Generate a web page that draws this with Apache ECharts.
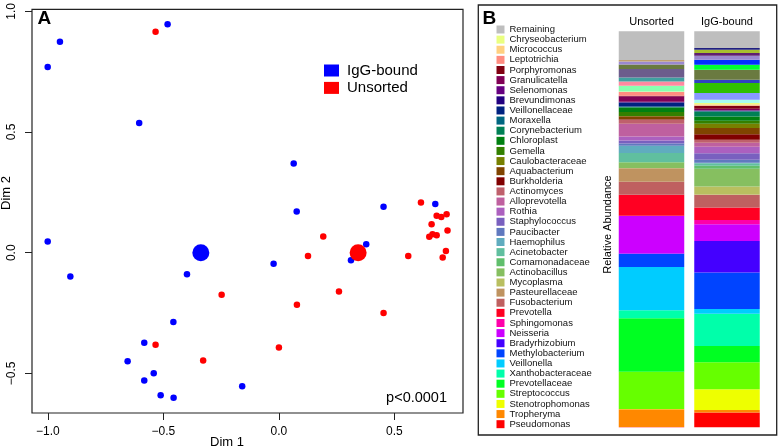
<!DOCTYPE html>
<html><head><meta charset="utf-8">
<script src="https://cdn.jsdelivr.net/npm/echarts@6/dist/echarts.min.js"></script>
<style>html,body{margin:0;padding:0;background:#fff}#c{width:778px;height:446px}</style>
</head><body><div id="c"></div>
<script>
// ---------- Panel A data (MDS coordinates) ----------
const iggBoundPoints = [
  [-0.482,0.947],[-0.948,0.874],[-1.001,0.769],[-0.605,0.537],[0.064,0.370],[0.077,0.171],
  [0.453,0.190],[-1.001,0.046],[0.378,0.035],[0.312,-0.031],[-0.023,-0.046],[-0.903,-0.098],
  [-0.398,-0.089],[-0.457,-0.287],[-0.583,-0.373],[-0.655,-0.450],[-0.542,-0.499],[-0.583,-0.529],
  [-0.159,-0.553],[-0.512,-0.590],[-0.456,-0.601],[0.677,0.202]
];
const unsortedPoints = [
  [-0.534,0.915],[0.192,0.067],[0.126,-0.014],[-0.248,-0.174],[0.260,-0.161],[0.078,-0.216],
  [0.453,-0.250],[-0.534,-0.381],[0.000,-0.393],[-0.328,-0.447],[0.615,0.208],[0.683,0.153],
  [0.703,0.148],[0.726,0.159],[0.661,0.118],[0.730,0.092],[0.665,0.077],[0.683,0.072],
  [0.651,0.066],[0.723,0.007],[0.560,-0.014],[0.709,-0.020]
];
const centroidIgG = [[-0.338,0.0]];
const centroidUnsorted = [[0.343,0.0]];
const xTicks = [-1.0,-0.5,0.0,0.5];
const yTicks = [-0.5,0.0,0.5,1.0];

// ---------- Panel B data (relative abundance, %) ----------
const sampleGroups = ['Unsorted','IgG-bound'];
// listed bottom -> top
const taxa = ['Pseudomonas','Tropheryma','Stenotrophomonas','Streptococcus','Prevotellaceae',
  'Xanthobacteraceae','Veillonella','Methylobacterium','Bradyrhizobium','Neisseria','Sphingomonas',
  'Prevotella','Fusobacterium','Pasteurellaceae','Mycoplasma','Actinobacillus','Comamonadaceae',
  'Acinetobacter','Haemophilus','Paucibacter','Staphylococcus','Rothia','Alloprevotella','Actinomyces',
  'Burkholderia','Aquabacterium','Caulobacteraceae','Gemella','Chloroplast','Corynebacterium',
  'Moraxella','Veillonellaceae','Brevundimonas','Selenomonas','Granulicatella','Porphyromonas',
  'Leptotrichia','Micrococcus','Chryseobacterium'];
const unsortedAbundance = [0.08,4.47,0.08,9.42,13.48,2.02,10.93,3.28,0.13,9.47,0.08,5.30,3.28,3.38,
  0.08,1.39,0.13,2.27,1.84,0.58,0.76,1.01,3.21,1.01,0.08,0.76,0.08,1.01,1.14,0.13,0.13,1.01,0.08,
  0.10,1.39,0.13,0.93,0.08,0.08];
const iggAbundance = [3.74,0.63,5.23,6.82,4.12,8.16,1.19,9.22,7.95,4.22,1.09,3.11,3.21,0.08,2.02,
  4.47,0.76,0.68,0.13,0.76,1.64,1.59,1.01,0.76,1.44,1.52,1.09,0.76,1.09,1.26,0.08,0.08,0.08,0.08,
  0.38,0.76,0.08,0.30,0.30];
// thin strips of taxa not named in the legend (bottom -> top)
const unlistedUnsorted = [0,1.44,0,1.09,0,1.01,0,2.10,1.14,0,0,0.76,0,0,0.38,0];
const unlistedIgG = [0.83,0,1.69,0,2.53,0,0.83,0,2.53,1.26,1.26,1.01,0.68,0.83,0,0.43];
const remainingName = 'Remaining';
const remainingUnsorted = 7.27;
const remainingIgG = 4.23;

// ---------- styles ----------
function hsv(h,s,v){
  const f=n=>{const k=(n+h/60)%6;return v-v*s*Math.max(0,Math.min(k,4-k,1));};
  const t=x=>Math.round(x*255).toString(16).padStart(2,'0');
  return '#'+t(f(5))+t(f(3))+t(f(1));
}
const taxaColors = taxa.map((n,i)=>{
  const g=Math.floor(i/12), h=(i%12)*32;
  if(g===0) return hsv(h,1,1);
  if(g===1) return hsv(h,0.5,0.75);
  if(g===2) return hsv(h,1,0.5);
  return hsv(h+6,0.5,1);
});
const unlistedColors = ['#a8fff0','#88ffb0','#8898ff','#ff88a0','#30c000','#40a0a0','#3040c0',
  '#6c5c8c','#6a7a40','#00ff30','#0030ff','#9a88d0','#602070','#a8c030','#c0a070','#202080'];
const FONT = '"Liberation Sans", Arial, Helvetica, sans-serif';

const fmt = v => (v<0?'\u2212':'')+Math.abs(v).toFixed(1);

const barSeries = [];
taxa.forEach((n,i)=>barSeries.push({
  name:n,type:'bar',stack:'b',xAxisIndex:1,yAxisIndex:1,barWidth:65.5,
  itemStyle:{color:taxaColors[i]},data:[unsortedAbundance[i],iggAbundance[i]]
}));
unlistedUnsorted.forEach((v,i)=>barSeries.push({
  name:'Unlisted taxon '+(i+1),type:'bar',stack:'b',xAxisIndex:1,yAxisIndex:1,barWidth:65.5,
  itemStyle:{color:unlistedColors[i]},data:[v,unlistedIgG[i]]
}));
barSeries.push({name:remainingName,type:'bar',stack:'b',xAxisIndex:1,yAxisIndex:1,barWidth:65.5,
  itemStyle:{color:'#bebebe'},data:[remainingUnsorted,remainingIgG]});

const chart = echarts.init(document.getElementById('c'));
chart.setOption({
  animation:false,
  textStyle:{fontFamily:FONT,color:'#000'},
  grid:[
    {left:32,top:5,width:431,height:408,show:true,borderColor:'#222',borderWidth:1.2,backgroundColor:'transparent'},
    {left:613.75,top:31.3,width:151,height:396}
  ],
  xAxis:[
    {type:'value',gridIndex:0,min:-1.069,max:0.797,splitLine:{show:false},axisLine:{show:false,onZero:false},
     axisTick:{show:true,length:7,customValues:xTicks,lineStyle:{color:'#222'}},
     axisLabel:{customValues:xTicks,formatter:fmt,fontSize:12,color:'#000',margin:13,fontFamily:FONT}},
    {type:'category',gridIndex:1,data:sampleGroups,position:'top',axisLine:{show:false},axisTick:{show:false},
     axisLabel:{fontSize:11,color:'#000',margin:4,fontFamily:FONT}}
  ],
  yAxis:[
    {type:'value',gridIndex:0,min:-0.664,max:1.008,splitLine:{show:false},axisLine:{show:false,onZero:false},
     axisTick:{show:true,length:7,customValues:yTicks,lineStyle:{color:'#222'}},
     axisLabel:{customValues:yTicks,formatter:fmt,fontSize:12,color:'#000',margin:14,rotate:90,fontFamily:FONT}},
    {type:'value',gridIndex:1,min:0,max:100,show:false}
  ],
  legend:[
    {data:['IgG-bound','Unsorted'],left:324,top:63,padding:0,orient:'vertical',icon:'rect',itemWidth:15,itemHeight:12,
     itemGap:2.4,selectedMode:false,textStyle:{fontSize:15,lineHeight:12,color:'#000',fontFamily:FONT,padding:[0,0,0,3]}},
    {data:[remainingName].concat(taxa.slice().reverse()),left:496.5,top:24.5,padding:0,orient:'vertical',icon:'rect',
     itemWidth:8,itemHeight:8,itemGap:0.12,selectedMode:false,
     textStyle:{fontSize:9.5,lineHeight:10,color:'#111',fontFamily:FONT}}
  ],
  series:[
    {name:'IgG-bound',type:'scatter',xAxisIndex:0,yAxisIndex:0,symbolSize:6.5,itemStyle:{color:'#0000ff',opacity:1},data:iggBoundPoints,z:2},
    {name:'Unsorted',type:'scatter',xAxisIndex:0,yAxisIndex:0,symbolSize:6.5,itemStyle:{color:'#ff0000',opacity:1},data:unsortedPoints,z:3},
    {name:'IgG-bound centroid',type:'scatter',xAxisIndex:0,yAxisIndex:0,symbolSize:17,itemStyle:{color:'#0000ff',opacity:1},data:centroidIgG,z:4},
    {name:'Unsorted centroid',type:'scatter',xAxisIndex:0,yAxisIndex:0,symbolSize:17,itemStyle:{color:'#ff0000',opacity:1},data:centroidUnsorted,z:4}
  ].concat(barSeries),
  graphic:[
    {type:'rect',shape:{x:478.3,y:5,width:298.4,height:430},style:{fill:'none',stroke:'#222',lineWidth:1.3},silent:true},
    {type:'text',x:37.5,y:18.5,style:{text:'A',font:'bold 19px '+FONT,fill:'#000',verticalAlign:'middle'}},
    {type:'text',x:482.5,y:18.5,style:{text:'B',font:'bold 19px '+FONT,fill:'#000',verticalAlign:'middle'}},
    {type:'text',x:447,y:397.5,style:{text:'p<0.0001',font:'14.5px '+FONT,fill:'#000',align:'right',verticalAlign:'middle'}},
    {type:'text',x:227,y:442,style:{text:'Dim 1',font:'13px '+FONT,fill:'#000',align:'center',verticalAlign:'middle'}},
    {type:'text',x:6.5,y:193,rotation:Math.PI/2,style:{text:'Dim 2',font:'13px '+FONT,fill:'#000',align:'center',verticalAlign:'middle'}},
    {type:'text',x:607.5,y:224.5,rotation:Math.PI/2,style:{text:'Relative Abundance',font:'11px '+FONT,fill:'#000',align:'center',verticalAlign:'middle'}}
  ]
});
</script></body></html>
